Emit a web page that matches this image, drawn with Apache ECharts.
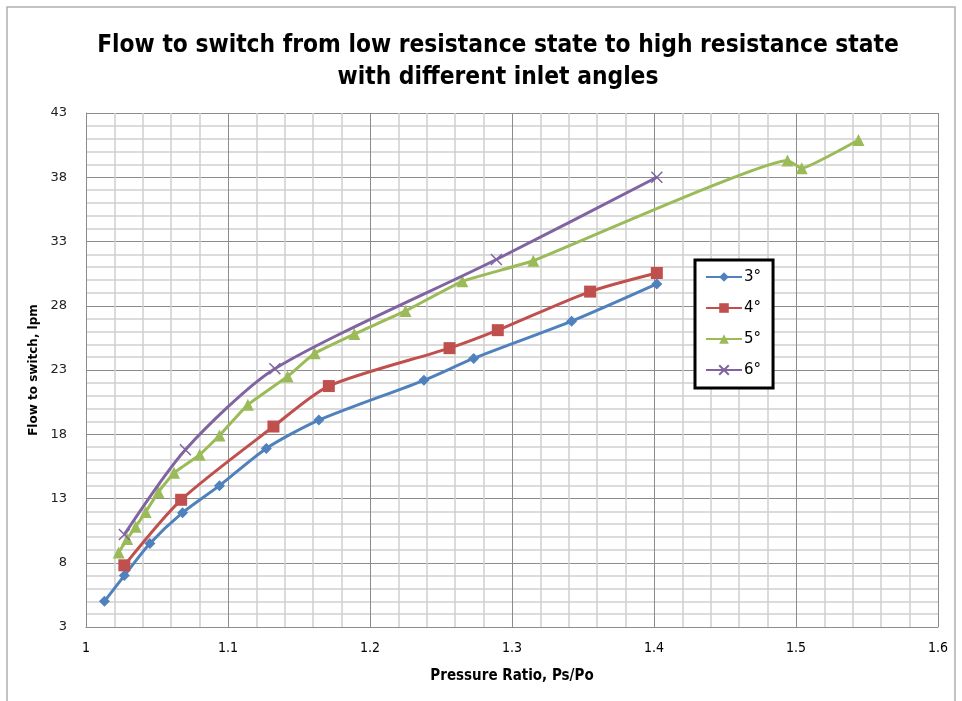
<!DOCTYPE html>
<html>
<head>
<meta charset="utf-8">
<script src="https://cdn.jsdelivr.net/npm/echarts@6/dist/echarts.min.js"></script>
<style>
  html, body { margin: 0; padding: 0; background: #fff; }
  #chart { width: 962px; height: 701px; }
</style>
</head>
<body>
<div id="chart"></div>
<script>
// Pressure ratio (Ps/Po) and flow to switch (lpm) for each inlet angle
const seriesNames = ['3°', '4°', '5°', '6°'];

const ratio3 = [1.013, 1.027, 1.045, 1.068, 1.094, 1.127, 1.164, 1.238, 1.273, 1.342, 1.402];
const flow3  = [5.0, 7.0, 9.5, 11.9, 14.0, 16.9, 19.1, 22.2, 23.9, 26.8, 29.7];

const ratio4 = [1.027, 1.067, 1.132, 1.171, 1.256, 1.290, 1.355, 1.402];
const flow4  = [7.8, 12.9, 18.6, 21.75, 24.7, 26.1, 29.1, 30.55];

const ratio5 = [1.023, 1.029, 1.035, 1.042, 1.051, 1.062, 1.080, 1.094, 1.114, 1.142,
                1.161, 1.189, 1.225, 1.265, 1.315, 1.494, 1.504, 1.544];
const flow5  = [8.8, 9.85, 10.8, 11.95, 13.5, 15.0, 16.4, 17.9, 20.3, 22.5,
                24.3, 25.8, 27.6, 29.9, 31.5, 39.3, 38.7, 40.9];

const ratio6 = [1.027, 1.070, 1.133, 1.289, 1.402];
const flow6  = [10.2, 16.8, 23.1, 31.6, 38.0];

const xTicks = { min: 1, max: 1.6, step: 0.1 };
const yTicks = { min: 3, max: 43, step: 5 };

const pairs = (xs, ys) => xs.map((x, i) => [x, ys[i]]);

const colors = ['#4F81BD', '#C0504D', '#9BBB59', '#8064A2'];
const crossPath = 'path://M0,0L10,10M10,0L0,10';

function lineSeries(idx, data, symbol, size, extra) {
  return Object.assign({
    name: seriesNames[idx],
    type: 'line',
    data: data,
    smooth: 0.25,
    symbol: symbol,
    symbolSize: size,
    showAllSymbol: true,
    lineStyle: { color: colors[idx], width: 3 },
    itemStyle: { color: colors[idx] },
    emphasis: { disabled: true },
    z: 3 + idx
  }, extra || {});
}

const chart = echarts.init(document.getElementById('chart'), null, { renderer: 'canvas' });

chart.setOption({
  animation: false,
  backgroundColor: '#fff',
  title: {
    text: 'Flow to switch from low resistance state to high resistance state\nwith different inlet angles',
    left: 493,
    top: 25,
    textAlign: 'center',
    textStyle: {
      fontFamily: '"Liberation Sans Narrow", "DejaVu Sans Condensed", sans-serif',
      fontSize: 24.3,
      fontWeight: 'bold',
      color: '#000',
      lineHeight: 32
    }
  },
  legend: {
    orient: 'vertical',
    left: 695,
    top: 260,
    width: 76,
    padding: [9, 12, 10, 10],
    itemGap: 15,
    itemWidth: 36,
    itemHeight: 12,
    borderColor: '#000',
    borderWidth: 3,
    backgroundColor: '#fff',
    data: seriesNames,
    textStyle: {
      fontFamily: '"DejaVu Sans", sans-serif',
      fontSize: 15,
      lineHeight: 16,
      color: '#000',
      padding: [0, 0, 0, -3]
    }
  },
  grid: {
    left: 86,
    right: 24,
    top: 113,
    bottom: 74,
    containLabel: false
  },
  xAxis: {
    type: 'value',
    min: xTicks.min,
    max: xTicks.max,
    interval: xTicks.step,
    name: 'Pressure Ratio, Ps/Po',
    nameLocation: 'middle',
    nameGap: 42,
    nameTextStyle: {
      fontFamily: '"Liberation Sans Narrow", "DejaVu Sans Condensed", sans-serif',
      fontSize: 15,
      fontWeight: 'bold',
      color: '#000'
    },
    axisLine: { show: true, lineStyle: { color: '#8c8c8c', width: 1 } },
    axisTick: { show: false },
    axisLabel: {
      margin: 14,
      fontFamily: '"Liberation Sans Narrow", "DejaVu Sans Condensed", sans-serif',
      fontSize: 14,
      color: '#000',
      formatter: v => String(parseFloat(v.toFixed(2)))
    },
    splitLine: { show: true, lineStyle: { color: '#8c8c8c', width: 1 } },
    minorTick: { show: false, splitNumber: 5 },
    minorSplitLine: { show: true, lineStyle: { color: '#cfcfcf', width: 1.5 } }
  },
  yAxis: {
    type: 'value',
    min: yTicks.min,
    max: yTicks.max,
    interval: yTicks.step,
    name: 'Flow to switch, lpm',
    nameLocation: 'middle',
    nameGap: 40,
    nameRotate: 90,
    nameTextStyle: {
      fontFamily: '"DejaVu Sans", sans-serif',
      fontSize: 12,
      fontWeight: 'bold',
      color: '#000',
      verticalAlign: 'middle'
    },
    axisLine: { show: true, lineStyle: { color: '#8c8c8c', width: 1 } },
    axisTick: { show: false },
    axisLabel: {
      margin: 19,
      fontFamily: '"DejaVu Sans", sans-serif',
      fontSize: 13,
      color: '#222'
    },
    splitLine: { show: true, lineStyle: { color: '#8c8c8c', width: 1 } },
    minorTick: { show: false, splitNumber: 5 },
    minorSplitLine: { show: true, lineStyle: { color: '#cfcfcf', width: 1.5 } }
  },
  graphic: [{
    type: 'rect',
    shape: { x: 7, y: 7, width: 948, height: 710 },
    style: { fill: 'none', stroke: '#b0b0b0', lineWidth: 1.5 },
    silent: true,
    z: -1
  }],
  series: [
    lineSeries(0, pairs(ratio3, flow3), 'diamond', 11),
    lineSeries(1, pairs(ratio4, flow4), 'rect', 12),
    // many closely spaced points: lighter smoothing keeps the long segments straight
    lineSeries(2, pairs(ratio5, flow5), 'triangle', 12, { smooth: 0.1 }),
    lineSeries(3, pairs(ratio6, flow6), crossPath, 11, {
      itemStyle: { color: 'none', borderColor: colors[3], borderWidth: 1.5 }
    })
  ]
});
</script>
</body>
</html>
